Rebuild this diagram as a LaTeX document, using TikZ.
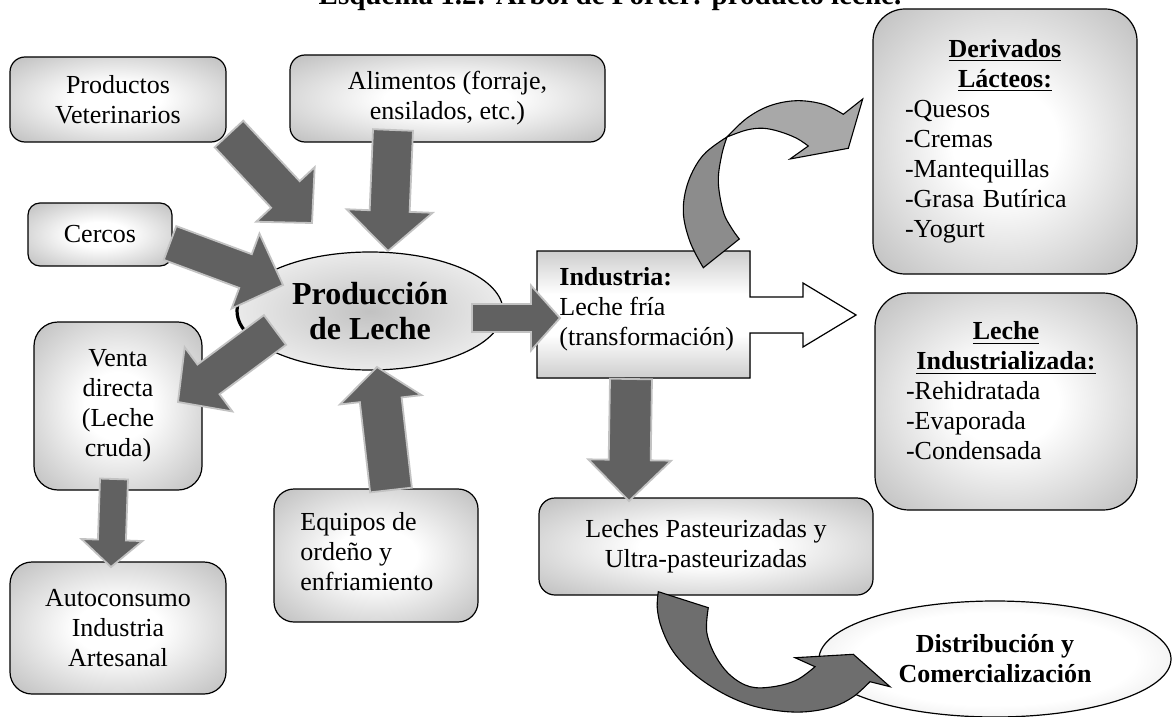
\documentclass[tikz,border=0pt]{standalone}
\usepackage{fontspec}
\setmainfont{Liberation Serif}
\usetikzlibrary{calc,shapes.geometric}

% greys
\definecolor{boxgray}{gray}{0.60}
\definecolor{arrowgray}{gray}{0.38}
\definecolor{arrowedge}{gray}{0.76}
\definecolor{ribbonlight}{gray}{0.66}
\definecolor{ribbondark}{gray}{0.55}
\definecolor{ribbondeep}{gray}{0.43}
\definecolor{indgray}{gray}{0.52}
\definecolor{prodcore}{gray}{0.76}
\definecolor{prodrim}{gray}{0.95}
\definecolor{distrim}{gray}{0.74}

% fills
\pgfdeclareradialshading{boxshade}{\pgfpoint{0bp}{0bp}}{color(0bp)=(white); color(10bp)=(white); color(50bp)=(boxgray)}
\pgfdeclareradialshading{prodshade}{\pgfpoint{0bp}{0bp}}{color(0bp)=(prodcore); color(30bp)=(prodrim); color(50bp)=(white)}
\pgfdeclareradialshading{distshade}{\pgfpoint{0bp}{0bp}}{color(0bp)=(white); color(20bp)=(white); color(50bp)=(distrim)}
\pgfdeclareverticalshading{indshade}{100bp}{color(0bp)=(indgray); color(42bp)=(white); color(58bp)=(white); color(100bp)=(indgray)}

\newcommand\boxfont{\fontsize{13}{15}\selectfont}
\newcommand\headfont{\fontsize{14.5}{17}\selectfont\bfseries}
\newcommand\prodfont{\fontsize{16}{17.5}\selectfont\bfseries}
\newcommand\distfont{\fontsize{13}{15}\selectfont\bfseries}

\tikzset{
  box/.style={draw=black, line width=0.6pt, shade, shading=boxshade,
    inner sep=0pt, align=center, font=\boxfont},
  oval/.style={ellipse, draw=black, line width=0.6pt, shade, inner sep=0pt, align=center},
  txt/.style={inner sep=0pt, font=\boxfont},
  blockarrow/.style={fill=arrowgray, draw=arrowedge, line width=0.9pt, line join=miter},
  ribbon/.style={draw=black, line width=0.55pt, line join=miter}
}

% straight block arrow: tail, tip, shaft half-width, head half-width, head length (px)
\newcommand\blockarrow[5]{%
  \path ($(#2)!#5*0.5pt!(#1)$) coordinate (hb);
  \filldraw[blockarrow]
    ($(#1)!#3*0.5pt!90:(#2)$) -- ($(hb)!#3*0.5pt!90:(#2)$) --
    ($(hb)!#4*0.5pt!90:(#2)$) -- (#2) --
    ($(hb)!#4*0.5pt!-90:(#2)$) -- ($(hb)!#3*0.5pt!-90:(#2)$) --
    ($(#1)!#3*0.5pt!-90:(#2)$) -- cycle;
}

\begin{document}
\begin{tikzpicture}[x=0.5pt, y=-0.5pt]
\useasboundingbox (0,0) rectangle (1172,717);
\fill[white] (0,0) rectangle (1172,717);

% heading
\node[font=\headfont, anchor=base, inner sep=0pt] (title) at (610,5)
  {Esquema 1.2: Árbol de Porter: producto leche.};

% input boxes
\node[box, minimum width=108pt, minimum height=42.5pt, rounded corners=7.5pt] (vet) at (118,99.5) {Productos\\Veterinarios};
\node[box, minimum width=157.5pt, minimum height=43.5pt, rounded corners=7.5pt] (ali) at (447.5,98.5) {Alimentos (forraje,\\ensilados, etc.)};
\node[box, minimum width=72pt, minimum height=31.5pt, rounded corners=6pt] (cer) at (100,234.5) {Cercos};
\node[box, minimum width=84pt, minimum height=84pt, rounded corners=12pt] (ven) at (118,406) {Venta\\directa\\(Leche\\cruda)};
\node[box, minimum width=108pt, minimum height=66pt, rounded corners=11pt] (aut) at (118,628) {Autoconsumo\\Industria\\Artesanal};
\node[box, minimum width=102pt, minimum height=66.5pt, rounded corners=10pt] (equ) at (376,555.5) {};
\node[txt, align=left, anchor=west] (equtxt) at (300,552) {Equipos de\\ordeño y\\enfriamiento};

% central oval, with its darker left rim
\node[oval, shading=prodshade, minimum width=133pt, minimum height=59pt, font=\prodfont] (pro) at (370,311) {Producción\\de Leche};
\draw[line width=1.6pt] ($(pro.center)+(160:133 and 59)$) arc[start angle=160, end angle=193, x radius=133, y radius=59];

% industry box with its outgoing arrow
\filldraw[draw=black, line width=0.6pt, shade, shading=indshade]
  (537,251) -- (750,251) -- (750,297) -- (803,297) -- (803,283) -- (856,315)
  -- (803,347) -- (803,333) -- (750,333) -- (750,378) -- (537,378) -- cycle;
\node[txt, align=left, anchor=west] (indtxt) at (559,309) {\textbf{Industria:}\\Leche fría\\(transformación)};

% output boxes
\node[box, minimum width=167pt, minimum height=48.5pt, rounded corners=8pt] (lec) at (706,546.5) {Leches Pasteurizadas y\\Ultra-pasteurizadas};
\node[box, minimum width=132pt, minimum height=132.5pt, rounded corners=16pt] (der) at (1005,141.5) {};
\node[txt, text width=100pt, align=left] (dertxt) at (1005,141.5)
  {{\centering\textbf{\underline{Derivados}}\\\textbf{\underline{Lácteos:}}\par}%
   -Quesos\\-Cremas\\-Mantequillas\\-Grasa Butírica\\-Yogurt};
\node[box, minimum width=131pt, minimum height=108.5pt, rounded corners=17pt] (lind) at (1006,401.5) {};
\node[txt, text width=100pt, align=left] (lindtxt) at (1006,391)
  {{\centering\textbf{\underline{Leche}}\\\textbf{\underline{Industrializada:}}\par}%
   -Rehidratada\\-Evaporada\\-Condensada};
\node[oval, shading=distshade, minimum width=176pt, minimum height=58pt, font=\distfont] (dis) at (995,659) {Distribución y\\Comercialización};

% straight block arrows
\coordinate (a1s) at (229,134); \coordinate (a1e) at (312,223);
\coordinate (a2s) at (393,130); \coordinate (a2e) at (388,251);
\coordinate (a3s) at (170,243); \coordinate (a3e) at (283,285);
\coordinate (a4s) at (275,330); \coordinate (a4e) at (178,402);
\coordinate (a5s) at (114,479); \coordinate (a5e) at (111,567);
\coordinate (a6s) at (391,490); \coordinate (a6e) at (377,367);
\coordinate (a7s) at (472,318); \coordinate (a7e) at (560,318);
\coordinate (a8s) at (631,379); \coordinate (a8e) at (629,501);
\blockarrow{a1s}{a1e}{19.5}{40}{39}
\blockarrow{a2s}{a2e}{20}{43}{40}
\blockarrow{a3s}{a3e}{18}{40}{40}
\blockarrow{a4s}{a4e}{18.5}{40}{38}
\blockarrow{a5s}{a5e}{14}{30.5}{27}
\blockarrow{a6s}{a6e}{21}{41}{33}
\blockarrow{a7s}{a7e}{14}{32.5}{29}
\blockarrow{a8s}{a8e}{21}{41.5}{41}

% curved ribbon arrow: industry -> dairy derivatives
\filldraw[ribbon, fill=ribbondark]
  plot[smooth, tension=0.6] coordinates {(703.3,267.7) (690,241.7) (683.3,211.7) (688.3,181.7) (703.3,155) (727,137)}
  -- plot[smooth, tension=0.6] coordinates {(727,137) (721.7,155) (718.3,181.7) (723.3,211.7) (731.7,228.3) (739.3,239)}
  -- cycle;
\filldraw[ribbon, fill=ribbonlight]
  plot[smooth, tension=0.6] coordinates {(727,137) (746.7,118.3) (770,105.7) (796.7,100.7) (823.3,104.3) (843.3,114.3)}
  -- (862.7,99) -- (848.3,148.3) -- (790,159)
  -- plot[smooth, tension=0.6] coordinates {(808.3,146) (796.7,138.3) (780,131.7) (763.3,128.3) (746.7,130) (727,137)}
  -- cycle;

% curved ribbon arrow: pasteurised milk -> distribution
\filldraw[ribbon, fill=ribbondeep]
  plot[smooth, tension=0.6] coordinates {(658.3,591.7) (657.3,608.3) (661.7,628.3) (673.3,651.7) (693.3,673.3) (720,691.7) (750,705) (780,711) (806.7,711.7) (833.3,706.7) (853.3,696.7) (870,681.7)}
  -- (890,686.7) -- (853.3,654.3) -- (795,657.7)
  -- plot[smooth, tension=0.6] coordinates {(815,666.7) (796.7,680) (773.3,686.7) (750,686.7) (730,675) (715,655) (706.7,631.7) (708.3,607.7)}
  -- cycle;
\end{tikzpicture}
\end{document}
